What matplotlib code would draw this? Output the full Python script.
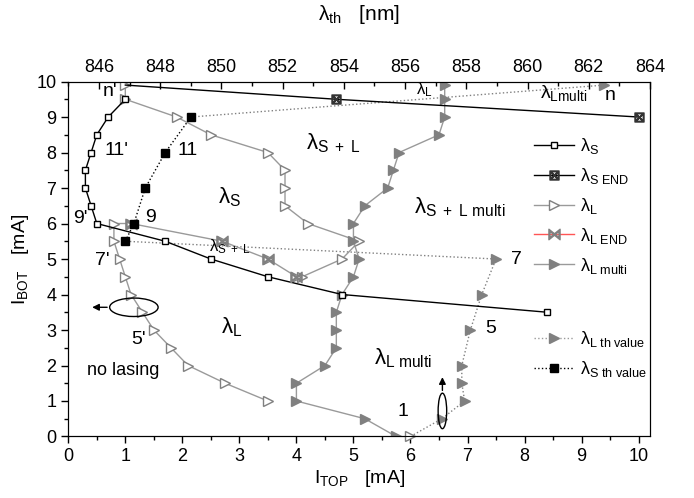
import matplotlib
matplotlib.use('Agg')
import matplotlib.pyplot as plt
from matplotlib.lines import Line2D
from matplotlib.patches import Ellipse
from matplotlib.ticker import MultipleLocator

plt.rcParams['font.family'] = ['Liberation Sans', 'DejaVu Sans']
plt.rcParams['mathtext.fontset'] = 'custom'
plt.rcParams['mathtext.rm'] = 'Liberation Sans'
plt.rcParams['mathtext.it'] = 'Liberation Sans:italic'
plt.rcParams['mathtext.bf'] = 'Liberation Sans:bold'

# --- data (I_TOP, I_BOT in mA) ---
# lambda_S (open squares)
s_x = [1.0, 0.7, 0.5, 0.4, 0.3, 0.3, 0.4, 0.5, 1.7, 2.5, 3.5, 4.8, 8.4]
s_y = [9.5, 9.0, 8.5, 8.0, 7.5, 7.0, 6.5, 6.0, 5.5, 5.0, 4.5, 4.0, 3.5]
# lambda_S END
se_x = [1.0, 4.7, 10.0]
se_y = [9.9, 9.5, 9.0]
# lambda_L (open triangles)
l_x = [1.0, 1.0, 1.9, 2.5, 3.5, 3.8, 3.8, 3.8, 4.2, 5.1, 4.8, 4.1, 4.0, 3.5, 2.7,
       1.1, 0.8, 0.8, 0.9, 1.0, 1.1, 1.3, 1.5, 1.8, 2.1, 2.75, 3.5]
l_y = [9.9, 9.5, 9.0, 8.5, 8.0, 7.5, 7.0, 6.5, 6.0, 5.5, 5.0, 4.5, 4.5, 5.0, 5.5,
       6.0, 6.0, 5.5, 5.0, 4.5, 4.0, 3.5, 3.0, 2.5, 2.0, 1.5, 1.0]
# lambda_L END
le_x = [1.1, 2.7, 3.5, 4.0]
le_y = [6.0, 5.5, 5.0, 4.5]
# lambda_L multi (filled triangles)
m_x = [6.6, 6.6, 6.6, 6.5, 5.8, 5.7, 5.6, 5.2, 5.0, 5.0, 5.1, 5.0, 4.8, 4.7, 4.7,
       4.7, 4.5, 4.0, 4.0, 5.2, 5.75]
m_y = [9.9, 9.5, 9.0, 8.5, 8.0, 7.5, 7.0, 6.5, 6.0, 5.5, 5.0, 4.5, 4.0, 3.5, 3.0,
       2.5, 2.0, 1.5, 1.0, 0.5, 0.0]
# lambda_L threshold values
lt_x = [6.55, 6.95, 6.9, 6.9, 7.05, 7.25, 7.5]
lt_y = [0.5, 1.0, 1.5, 2.0, 3.0, 4.0, 5.0]
lt_start = (6.0, 0.0)
lt_end = (9.4, 9.9)
# lambda_S threshold values
st_x = [1.0, 1.15, 1.35, 1.7, 2.15]
st_y = [5.5, 6.0, 7.0, 8.0, 9.0]

gray = '#808080'
lgray = '#9a9a9a'

fig = plt.figure(figsize=(6.94, 4.98), dpi=100)
ax = fig.add_axes([0.0984, 0.1235, 0.8382, 0.7128])

# lines
ax.plot(s_x, s_y, color='k', lw=1, marker='s', ms=4.5, mfc='white', mec='k', mew=1, zorder=4)
ax.plot(se_x, se_y, color='k', lw=1, zorder=4)
ax.plot(se_x[1:], se_y[1:], ls='none', marker=r'$\boxtimes$', ms=6.5, color='#333333', zorder=5)
ax.plot(l_x, l_y, color=lgray, lw=1, marker='>', ms=7, mfc='white', mec=gray, mew=1, zorder=3)
ax.plot(le_x, le_y, ls='none', marker=r'$\bowtie$', ms=8, color=gray, zorder=5)
ax.plot(m_x, m_y, color=lgray, lw=1, marker='>', ms=7, mfc=gray, mec=gray, mew=1, zorder=3)

# threshold dotted paths
path_x = [lt_start[0]] + lt_x + [st_x[0]]
path_y = [lt_start[1]] + lt_y + [st_y[0]]
ax.plot(path_x, path_y, color=gray, lw=1, ls=':', zorder=2)
ax.plot([st_x[-1], lt_end[0]], [st_y[-1], lt_end[1]], color=gray, lw=1, ls=':', zorder=2)
ax.plot(lt_x + [lt_end[0]], lt_y + [lt_end[1]], ls='none', marker='>', ms=7,
        mfc=gray, mec=gray, zorder=4)
ax.plot([lt_start[0]], [lt_start[1]], ls='none', marker='>', ms=7, mfc='white', mec=gray,
        zorder=4, clip_on=False)
ax.plot(st_x, st_y, color='k', lw=1, ls=':', marker='s', ms=5.5, mfc='k', mec='k', zorder=6)

# annotations
fs = 14
txt = [("n'", 0.73, 9.72), ("11'", 0.85, 8.07), ("11", 2.1, 8.07), ("9'", 0.22, 6.15),
       ("9", 1.45, 6.17), ("7'", 0.6, 4.97), ("5'", 1.23, 2.72), ("7", 7.85, 5.0),
       ("5", 7.4, 3.05), ("1", 5.87, 0.7), ("n", 9.5, 9.62)]
for t, x, y in txt:
    ax.text(x, y, t, fontsize=fs, ha='center', va='center')
ax.text(0.97, 1.87, 'no lasing', fontsize=13, ha='center', va='center')
ax.text(2.83, 6.75, r'$\mathrm{λ_{S}}$', fontsize=16, ha='center', va='center')
ax.text(2.83, 5.35, r'$\mathrm{λ_{S\ +\ L}}$', fontsize=12, ha='center', va='center')
ax.text(2.86, 3.09, r'$\mathrm{λ_{L}}$', fontsize=16, ha='center', va='center')
ax.text(4.64, 8.26, r'$\mathrm{λ_{S\ +\ L}}$', fontsize=16, ha='center', va='center')
ax.text(6.86, 6.47, r'$\mathrm{λ_{S\ +\ L\ multi}}$', fontsize=16, ha='center', va='center')
ax.text(5.87, 2.2, r'$\mathrm{λ_{L\ multi}}$', fontsize=16, ha='center', va='center')
ax.text(6.25, 9.76, r'$\mathrm{λ_{L}}$', fontsize=12, ha='center', va='center')
ax.text(8.68, 9.67, r'$\mathrm{λ_{Lmulti}}$', fontsize=14, ha='center', va='center')

ax.add_patch(Ellipse((1.15, 3.64), 0.85, 0.52, fill=False, ec='k', lw=1, zorder=7))
ax.annotate('', xy=(0.37, 3.64), xytext=(0.73, 3.64),
            arrowprops=dict(arrowstyle='-|>', color='k', lw=1, mutation_scale=10))
ax.add_patch(Ellipse((6.56, 0.72), 0.15, 1.0, fill=False, ec='k', lw=1, zorder=7))
ax.annotate('', xy=(6.56, 1.75), xytext=(6.56, 1.22),
            arrowprops=dict(arrowstyle='-|>', color='k', lw=1, mutation_scale=10))

# axes
ax.set_xlim(0, 10.2)
ax.set_ylim(0, 10)
ax.xaxis.set_major_locator(MultipleLocator(1))
ax.xaxis.set_minor_locator(MultipleLocator(0.5))
ax.yaxis.set_major_locator(MultipleLocator(1))
ax.yaxis.set_minor_locator(MultipleLocator(0.5))
ax.tick_params(which='both', direction='out', labelsize=13, width=1)
ax.tick_params(which='major', length=5)
ax.tick_params(which='minor', length=3)
ax.tick_params(right=False, top=False)
ax.set_xlabel(r'$\mathrm{I_{TOP}}$   [mA]', fontsize=14, labelpad=2)
ax.set_ylabel(r'$\mathrm{I_{BOT}}$   [mA]', fontsize=14, labelpad=4)

ax2 = ax.twiny()
ax2.set_xlim(845, 864)
ax2.xaxis.set_major_locator(MultipleLocator(2))
ax2.xaxis.set_minor_locator(MultipleLocator(1))
ax2.tick_params(which='both', direction='in', labelsize=13, width=1)
ax2.tick_params(which='major', length=5, pad=4)
ax2.tick_params(which='minor', length=3)
ax2.set_xlabel(r'$\mathrm{λ_{th}}$   [nm]', fontsize=15, labelpad=28)

# legends
h1 = [Line2D([], [], color='k', lw=1, marker='s', ms=4.5, mfc='white', mec='k'),
      Line2D([], [], color='k', lw=1, marker=r'$\boxtimes$', ms=6.5, mfc='#333333', mec='#333333'),
      Line2D([], [], color=lgray, lw=1, marker='>', ms=7, mfc='white', mec=gray),
      Line2D([], [], color='#ff5555', lw=1, marker=r'$\bowtie$', ms=8, mfc=gray, mec=gray),
      Line2D([], [], color=lgray, lw=1, marker='>', ms=7, mfc=gray, mec=gray)]
lab1 = [r'$\mathrm{λ_{S}}$', r'$\mathrm{λ_{S\ END}}$', r'$\mathrm{λ_{L}}$',
        r'$\mathrm{λ_{L\ END}}$', r'$\mathrm{λ_{L\ multi}}$']
leg1 = ax.legend(h1, lab1, loc='upper left', bbox_to_anchor=(0.757, 0.745),
                 bbox_transform=fig.transFigure, frameon=False, fontsize=13,
                 handlelength=2.2, handletextpad=0.3, labelspacing=0.55, borderpad=0)
ax.add_artist(leg1)
h2 = [Line2D([], [], color=lgray, lw=1, ls=':', marker='>', ms=7, mfc=gray, mec=gray),
      Line2D([], [], color='k', lw=1, ls=':', marker='s', ms=5.5, mfc='k', mec='k')]
lab2 = [r'$\mathrm{λ_{L\ th\ value}}$', r'$\mathrm{λ_{S\ th\ value}}$']
ax.legend(h2, lab2, loc='upper left', bbox_to_anchor=(0.757, 0.357),
          bbox_transform=fig.transFigure, frameon=False, fontsize=13,
          handlelength=2.2, handletextpad=0.3, labelspacing=0.55, borderpad=0)

fig.savefig('out.png', dpi=100)
